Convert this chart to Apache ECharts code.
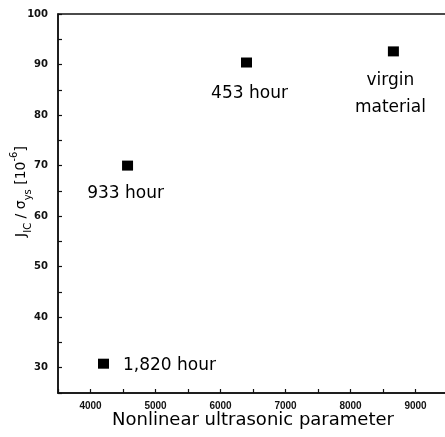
<!DOCTYPE html>
<html>
<head>
<meta charset="utf-8">
<script src="https://cdn.jsdelivr.net/npm/echarts@6/dist/echarts.min.js"></script>
<style>
html,body{margin:0;padding:0;background:#fff;}
#c{width:445px;height:437px;}
</style>
</head>
<body>
<div id="c"></div>
<script>
var pointNames = ['933 hour', '1,820 hour', '453 hour', 'virgin\nmaterial'];
var xValues = [4570, 4200, 6400, 8660];
var yValues = [70, 30.8, 90.4, 92.6];
var xTickLabels = ['4000', '5000', '6000', '7000', '8000', '9000'];
var yTickLabels = ['30', '40', '50', '60', '70', '80', '90', '100'];

var labelFont = 'DejaVu Sans';
var labelStyles = [
  {position: 'bottom', offset: [-2, 9]},
  {position: 'right', distance: 14, offset: [0, 2]},
  {position: 'bottom', offset: [3, 13]},
  {position: 'bottom', offset: [-3, 6], lineHeight: 27, align: 'center'}
];

var data = xValues.map(function (x, i) {
  var ls = labelStyles[i];
  return {
    value: [x, yValues[i]],
    name: pointNames[i],
    label: Object.assign({
      show: true,
      formatter: '{b}',
      color: '#000',
      fontFamily: labelFont,
      fontSize: 17
    }, ls)
  };
});

var option = {
  animation: false,
  backgroundColor: '#fff',
  grid: {
    left: 58, top: 14, right: -3, bottom: 44,
    containLabel: false,
    outerBoundsMode: 'none',
    show: true, borderColor: '#111', borderWidth: 1.5, backgroundColor: 'transparent'
  },
  xAxis: {
    type: 'value', min: 3500, max: 9500, interval: 500,
    axisLine: {show: true, lineStyle: {color: '#111', width: 1.5}},
    axisTick: {show: true, inside: true, length: 4, lineStyle: {color: '#111', width: 1.2}},
    splitLine: {show: false},
    axisLabel: {
      margin: 8,
      fontFamily: 'Liberation Sans Narrow, Liberation Sans', fontSize: 10, fontWeight: 'bold', color: '#111',
      formatter: function (v) { var s = String(v); return xTickLabels.indexOf(s) >= 0 ? s : ''; }
    },
    name: 'Nonlinear ultrasonic parameter',
    nameLocation: 'middle',
    nameGap: 18,
    nameMoveOverlap: false,
    nameTextStyle: {fontFamily: 'DejaVu Sans', fontSize: 18, color: '#000'}
  },
  yAxis: {
    type: 'value', min: 25, max: 100, interval: 5,
    axisLine: {show: true, lineStyle: {color: '#111', width: 1.5}},
    axisTick: {show: true, inside: true, length: 4, lineStyle: {color: '#111', width: 1.2}},
    splitLine: {show: false},
    axisLabel: {
      margin: 10,
      fontFamily: 'DejaVu Sans', fontSize: 10, fontWeight: 'bold', color: '#111',
      formatter: function (v) { var s = String(v); return yTickLabels.indexOf(s) >= 0 ? s : ''; }
    },
    name: '{a|J}{s|IC}{a| / σ}{s|ys}{a| [10}{p|-6}{a|]}',
    nameLocation: 'middle',
    nameGap: 25,
    nameMoveOverlap: false,
    nameTextStyle: {
      padding: [0, 0, 0, 24],
      rich: {
        a: {fontFamily: 'DejaVu Sans', fontSize: 14, color: '#000', lineHeight: 24, verticalAlign: 'middle'},
        s: {fontFamily: 'DejaVu Sans', fontSize: 10, color: '#000', lineHeight: 24, verticalAlign: 'bottom'},
        p: {fontFamily: 'DejaVu Sans', fontSize: 10, color: '#000', lineHeight: 24, verticalAlign: 'top'}
      }
    }
  },
  series: [{
    type: 'scatter',
    symbol: 'rect',
    symbolSize: [11, 10],
    itemStyle: {color: '#000', opacity: 1},
    emphasis: {disabled: true},
    data: data
  }]
};

var chart = echarts.init(document.getElementById('c'), null, {renderer: 'canvas'});
chart.setOption(option);
</script>
</body>
</html>
